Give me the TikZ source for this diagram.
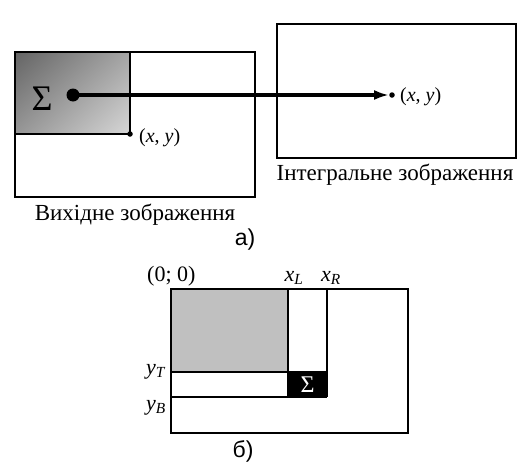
\documentclass[tikz,border=0pt]{standalone}
\usepackage{fontspec}
\setmainfont{Liberation Serif}
\newfontfamily\arialf{Liberation Sans}
\usetikzlibrary{arrows.meta,shadings}
\definecolor{gUL}{RGB}{100,100,100}
\definecolor{gLR}{RGB}{215,215,215}
\definecolor{gUR}{RGB}{165,165,165}
\definecolor{gLL}{RGB}{150,150,150}
\definecolor{gFill}{RGB}{192,192,192}
\tikzset{
  frame/.style={draw=black, line width=1.2pt},
  captext/.style={font=\fontsize{23}{26}\selectfont, inner sep=0pt},
  lbl/.style={font=\fontsize{20}{23}\selectfont, inner sep=0pt, anchor=west},
  sub/.style={font=\fontsize{22}{25}\selectfont, inner sep=0pt},
  part/.style={font=\arialf\fontsize{23}{26}\selectfont, inner sep=0pt},
  bigdot/.style={circle, fill=black, inner sep=0pt, minimum size=13pt},
  smalldot/.style={circle, fill=black, inner sep=0pt, minimum size=5.5pt},
}
\begin{document}
\begin{tikzpicture}[x=1pt,y=-1pt]
\useasboundingbox (0,0) rectangle (522,466);
% ---- a) left image
\shade[upper left=gUL, lower right=gLR, upper right=gUR, lower left=gLL]
  (15,52) rectangle (130,134);
\draw[frame] (15,52) rectangle (255,197);
\draw[frame] (130,52) -- (130,134) -- (15,134);
\node[font=\fontsize{36}{40}\selectfont, inner sep=0pt] (sig) at (42,99) {Σ};
\node[bigdot] (d1) at (73,95) {};
\node[smalldot] (d2) at (130,134) {};
\node[lbl] (l1) at (139,138) {(\textit{x}, \textit{y})};
\node[captext] (c1) at (135,215) {Вихідне зображення};
% ---- right image
\draw[frame] (277,24) rectangle (516,158);
\node[smalldot] (d3) at (392,95) {};
\node[lbl] (l2) at (400,97) {(\textit{x}, \textit{y})};
\node[captext] (c2) at (395,175) {Інтегральне зображення};
\draw[line width=3.8pt, -{Latex[length=15pt,width=10pt]}] (d1.center) -- (d3.west);
\node[part] (pa) at (245,240) {а)};
% ---- b)
\fill[gFill] (171,289) rectangle (288,372);
\draw[frame] (171,289) rectangle (408,433);
\draw[frame] (288,289) -- (288,397);
\draw[frame] (327,289) -- (327,397);
\draw[frame] (171,372) -- (327,372);
\draw[frame] (171,397) -- (327,397);
\fill[black] (288,372) rectangle (327,397);
\node[text=white, font=\fontsize{24}{26}\selectfont, inner sep=0pt] (s2) at (307.5,385) {Σ};
\node[sub, anchor=base west] (o) at (147,281) {(0; 0)};
\node[sub, anchor=base] (xl) at (294,281) {\textit{x}\textsubscript{\textit{L}}};
\node[sub, anchor=base] (xr) at (331,281) {\textit{x}\textsubscript{\textit{R}}};
\node[sub, anchor=base] (yt) at (156,374) {\textit{y}\textsubscript{\textit{T}}};
\node[sub, anchor=base] (yb) at (156,410) {\textit{y}\textsubscript{\textit{B}}};
\node[part] (pb) at (243,451) {б)};
\end{tikzpicture}
\end{document}
